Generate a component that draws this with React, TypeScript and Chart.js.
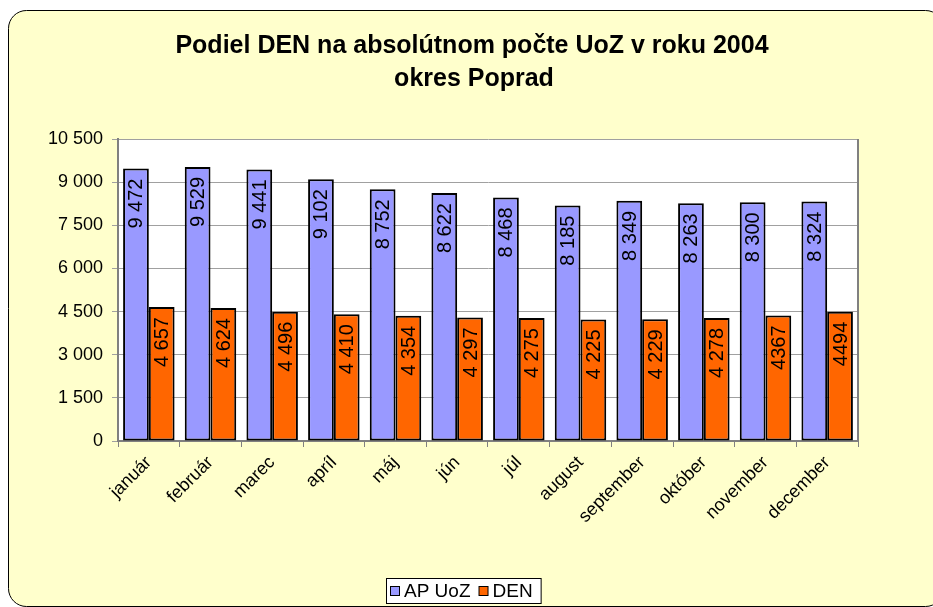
import React, { useEffect, useRef } from "react";
import { Chart, registerables } from "chart.js";

Chart.register(...registerables);

const TITLE_LINES = ["Podiel DEN na absolútnom počte UoZ v roku 2004", "okres Poprad"];
const MONTHS = ["január", "február", "marec", "apríl", "máj", "jún", "júl", "august", "september", "október", "november", "december"];
const SERIES_NAMES = ["AP UoZ", "DEN"];
const AP_UOZ = [9472, 9529, 9441, 9102, 8752, 8622, 8468, 8185, 8349, 8263, 8300, 8324];
const DEN = [4657, 4624, 4496, 4410, 4354, 4297, 4275, 4225, 4229, 4278, 4367, 4494];
const AP_UOZ_LABELS = ["9 472", "9 529", "9 441", "9 102", "8 752", "8 622", "8 468", "8 185", "8 349", "8 263", "8 300", "8 324"];
const DEN_LABELS = ["4 657", "4 624", "4 496", "4 410", "4 354", "4 297", "4 275", "4 225", "4 229", "4 278", "4367", "4494"];
const Y_MIN = 0;
const Y_MAX = 10500;
const Y_STEP = 1500;

const COLORS = ["#9999FF", "#FF6600"];
const FONT = "'Liberation Sans', Arial, sans-serif";

const fmt = (v: number) => String(v).replace(/\B(?=(\d{3})+(?!\d))/g, " ");

const decor = {
  id: "decor",
  beforeDraw(chart: any) {
    const { ctx, width, height, chartArea: a } = chart;
    ctx.save();
    ctx.fillStyle = "#ffffff";
    ctx.fillRect(0, 0, width, height);
    ctx.beginPath();
    ctx.roundRect(8.5, 10.5, 935, 596, 18);
    ctx.fillStyle = "#FFFFCC";
    ctx.fill();
    ctx.strokeStyle = "#000000";
    ctx.lineWidth = 1;
    ctx.stroke();
    ctx.fillStyle = "#ffffff";
    ctx.fillRect(a.left, a.top, a.right - a.left, a.bottom - a.top);
    ctx.restore();
  },
  afterDatasetsDraw(chart: any) {
    const { ctx } = chart;
    const labelSets = [AP_UOZ_LABELS, DEN_LABELS];
    ctx.save();
    ctx.font = `20px ${FONT}`;
    ctx.fillStyle = "#000000";
    ctx.textAlign = "right";
    ctx.textBaseline = "middle";
    chart.data.datasets.forEach((_ds: any, di: number) => {
      const meta = chart.getDatasetMeta(di);
      meta.data.forEach((bar: any, i: number) => {
        ctx.save();
        ctx.translate(bar.x + 1, bar.y + 10);
        ctx.rotate(-Math.PI / 2);
        ctx.fillText(labelSets[di][i], 0, 0);
        ctx.restore();
      });
    });
    ctx.restore();
  },
  afterDraw(chart: any) {
    const { ctx, chartArea: a } = chart;
    ctx.save();
    ctx.strokeStyle = "#808080";
    ctx.lineWidth = 2;
    ctx.beginPath();
    ctx.moveTo(a.right, a.top);
    ctx.lineTo(a.right, a.bottom);
    ctx.stroke();
    // title
    ctx.fillStyle = "#000000";
    ctx.font = `bold 25px ${FONT}`;
    ctx.textAlign = "center";
    ctx.textBaseline = "middle";
    ctx.fillText(TITLE_LINES[0], 472, 46);
    ctx.fillText(TITLE_LINES[1], 474, 79);
    // legend
    ctx.font = `19px ${FONT}`;
    ctx.textAlign = "left";
    const ly = 591;
    const widths = SERIES_NAMES.map((n) => ctx.measureText(n).width);
    const box = 10;
    const gap = 4;
    const itemGap = 8;
    const pad = 4;
    const total = widths.reduce((s, w) => s + box + gap + w, 0) + itemGap * (SERIES_NAMES.length - 1) + pad * 2 + 4;
    const lx = Math.round(463 - total / 2);
    ctx.fillStyle = "#ffffff";
    ctx.fillRect(lx + 0.5, ly - 12.5, total, 25);
    ctx.strokeStyle = "#000000";
    ctx.lineWidth = 1;
    ctx.strokeRect(lx + 0.5, ly - 12.5, total, 25);
    let x = lx + pad;
    SERIES_NAMES.forEach((n, i) => {
      ctx.fillStyle = COLORS[i];
      ctx.fillRect(x + 0.5, ly - 4.5, box - 1, box - 1);
      ctx.strokeStyle = "#000000";
      ctx.lineWidth = 1;
      ctx.strokeRect(x + 0.5, ly - 4.5, box - 1, box - 1);
      x += box + gap;
      ctx.fillStyle = "#000000";
      ctx.fillText(n, x, ly + 1);
      x += widths[i] + itemGap;
    });
    ctx.restore();
  },
};

export default function App() {
  const ref = useRef<HTMLCanvasElement | null>(null);
  useEffect(() => {
    if (!ref.current) return;
    const chart = new Chart(ref.current, {
      type: "bar",
      data: {
        labels: MONTHS,
        datasets: [
          {
            label: SERIES_NAMES[0],
            data: AP_UOZ,
            backgroundColor: COLORS[0],
            borderColor: "#000000",
            borderWidth: 2,
            borderSkipped: false,
            categoryPercentage: 0.835,
            barPercentage: 1,
          },
          {
            label: SERIES_NAMES[1],
            data: DEN,
            backgroundColor: COLORS[1],
            borderColor: "#000000",
            borderWidth: 2,
            borderSkipped: false,
            categoryPercentage: 0.835,
            barPercentage: 1,
          },
        ],
      },
      options: {
        responsive: false,
        animation: false,
        layout: { padding: { top: 139, right: 75, bottom: 66, left: 0 } },
        plugins: {
          legend: { display: false },
          title: { display: false },
          tooltip: { enabled: false },
        },
        scales: {
          x: {
            afterFit: (s: any) => {
              s.height = 100;
            },
            grid: {
              display: true,
              drawOnChartArea: false,
              drawTicks: true,
              tickLength: 6,
              color: "#808080",
              offset: true,
            },
            border: { display: true, color: "#808080", width: 2 },
            ticks: {
              color: "#000000",
              font: { family: FONT, size: 18 },
              maxRotation: 45,
              minRotation: 45,
              padding: 5,
              autoSkip: false,
            },
          },
          y: {
            min: Y_MIN,
            max: Y_MAX,
            afterFit: (s: any) => {
              s.width = 118;
            },
            grid: {
              color: "#A0A0A0",
              lineWidth: 1,
              tickLength: 6,
              drawTicks: true,
            },
            border: { display: true, color: "#808080", width: 2 },
            ticks: {
              stepSize: Y_STEP,
              color: "#000000",
              font: { family: FONT, size: 18 },
              padding: 9,
              callback: (v: any) => fmt(Number(v)),
            },
          },
        },
      },
      plugins: [decor],
    });
    return () => chart.destroy();
  }, []);
  return (
    <div style={{ position: "absolute", left: 0, top: 0, width: 933, height: 607 }}>
      <canvas ref={ref} width={933} height={607} style={{ display: "block" }} />
    </div>
  );
}
